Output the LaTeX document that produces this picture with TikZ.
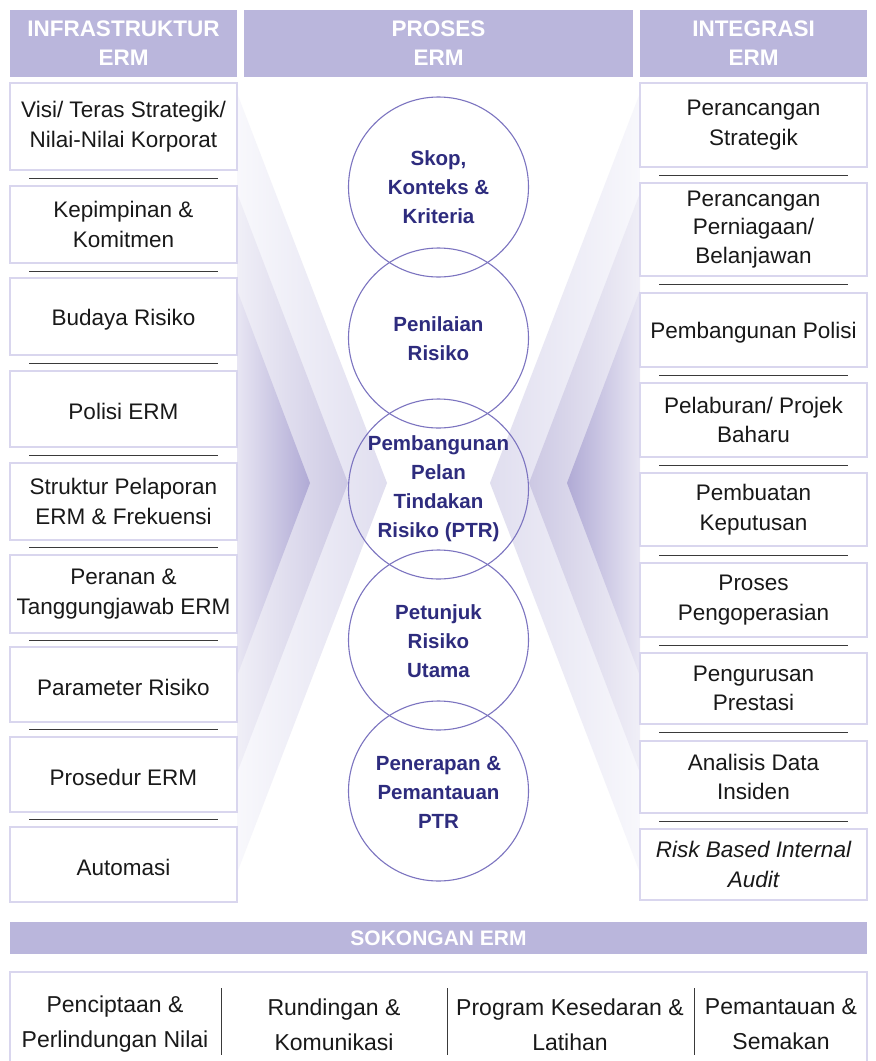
\documentclass[tikz,border=0pt]{standalone}
\usepackage{fontspec}
\setmainfont{Liberation Sans}
\definecolor{hdr}{HTML}{BAB6DC}
\definecolor{bord}{HTML}{D9D6EE}
\definecolor{circ}{HTML}{7C74C0}
\definecolor{navy}{HTML}{2E2C7E}
\definecolor{sepc}{HTML}{3A3A3A}
\definecolor{chA}{HTML}{B0AAD5}
\definecolor{chB}{HTML}{CCC8E3}
\definecolor{chC}{HTML}{E0DEEF}
\definecolor{chAl}{HTML}{E8E6F3}
\definecolor{chBl}{HTML}{F0EFF7}
\definecolor{chCl}{HTML}{F8F8FC}
\begin{document}
\begin{tikzpicture}[x=1pt,y=-1pt,
  hdrbox/.style={fill=hdr, draw=none, text=white, font=\fontsize{22.5}{29}\selectfont\bfseries, align=center, inner sep=0pt, minimum height=67pt},
  ibox/.style={draw=bord, line width=1.2pt, fill=white, align=center, font=\fontsize{22.5}{29.5}\selectfont, minimum width=227pt, inner sep=0pt, text=black!90, execute at begin node={\rule{0pt}{22pt}}},
  sepline/.style={draw=sepc, line width=1pt},
  ring/.style={circle, draw=circ, line width=1.1pt, minimum size=180pt, inner sep=0pt},
  ctext/.style={font=\fontsize{20.5}{29}\selectfont\bfseries, text=navy, align=center, inner sep=0pt},
  btext/.style={font=\fontsize{23}{35}\selectfont, align=center, inner sep=0pt, text=black!90}
]
\useasboundingbox[fill=white] (0,0) rectangle (876,1061);

% chevrons (left)
\shade[left color=chCl, right color=chC] (237,93) -- (387,483) -- (237,873) -- cycle;
\shade[left color=chBl, right color=chB] (237,193) -- (348,483) -- (237,773) -- cycle;
\shade[left color=chAl, right color=chA] (237,290) -- (310,483) -- (237,676) -- cycle;
% chevrons (right)
\shade[left color=chC, right color=chCl] (640,93) -- (490,483) -- (640,873) -- cycle;
\shade[left color=chB, right color=chBl] (640,193) -- (529,483) -- (640,773) -- cycle;
\shade[left color=chA, right color=chAl] (640,290) -- (567,483) -- (640,676) -- cycle;

% headers
\node[hdrbox, minimum width=227pt] (h1) at (123.5,43.5) {INFRASTRUKTUR\\ERM};
\node[hdrbox, minimum width=389pt] (h2) at (438.5,43.5) {PROSES\\ERM};
\node[hdrbox, minimum width=227pt] (h3) at (753.5,43.5) {INTEGRASI\\ERM};

% left column
\node[ibox, minimum height=87pt] (l1) at (123.5,126.5) {Visi/ Teras Strategik/\\Nilai-Nilai Korporat};
\node[ibox, minimum height=77pt] (l2) at (123.5,224.5) {Kepimpinan \&\\Komitmen};
\node[ibox, minimum height=77pt] (l3) at (123.5,316.5) {Budaya Risiko};
\node[ibox, minimum height=76pt] (l4) at (123.5,409) {Polisi ERM};
\node[ibox, minimum height=77pt] (l5) at (123.5,501.5) {Struktur Pelaporan\\ERM \& Frekuensi};
\node[ibox, minimum height=78pt] (l6) at (123.5,594) {Peranan \&\\Tanggungjawab ERM};
\node[ibox, minimum height=75pt] (l7) at (123.5,684.5) {Parameter Risiko};
\node[ibox, minimum height=75pt] (l8) at (123.5,774.5) {Prosedur ERM};
\node[ibox, minimum height=75pt] (l9) at (123.5,864.5) {Automasi};
\foreach \y in {178,271,363,455,547,640,729,819}
  \draw[sepline] (29,\y) -- (218,\y);

% right column
\node[ibox, minimum height=84pt] (r1) at (753.5,125) {Perancangan\\Strategik};
\node[ibox, minimum height=93pt, font=\fontsize{22.5}{28.5}\selectfont] (r2) at (753.5,229.5) {Perancangan\\Perniagaan/\\Belanjawan};
\node[ibox, minimum height=74pt] (r3) at (753.5,330) {Pembangunan Polisi};
\node[ibox, minimum height=74pt] (r4) at (753.5,420) {Pelaburan/ Projek\\Baharu};
\node[ibox, minimum height=73pt] (r5) at (753.5,509.5) {Pembuatan\\Keputusan};
\node[ibox, minimum height=74pt] (r6) at (753.5,600) {Proses\\Pengoperasian};
\node[ibox, minimum height=71pt] (r7) at (753.5,688.5) {Pengurusan\\Prestasi};
\node[ibox, minimum height=72pt] (r8) at (753.5,777) {Analisis Data\\Insiden};
\node[ibox, minimum height=71pt, font=\fontsize{22.5}{29.5}\selectfont\itshape] (r9) at (753.5,864.5) {Risk Based Internal\\Audit};
\foreach \y in {175,284,375,465,555,645,732,821}
  \draw[sepline] (659,\y) -- (848,\y);

% process circles
\node[ring] (c1) at (438.5,187) {};
\node[ring] (c2) at (438.5,338) {};
\node[ring] (c3) at (438.5,489) {};
\node[ring] (c4) at (438.5,640) {};
\node[ring] (c5) at (438.5,791) {};
\node[ctext] (t1) at (c1.center) {Skop,\\Konteks \&\\Kriteria};
\node[ctext] (t2) at (438.5,339) {Penilaian\\Risiko};
\node[ctext] (t3) at (c3.center) {Pembangunan\\Pelan\\Tindakan\\Risiko (PTR)};
\node[ctext] (t4) at (438.5,641) {Petunjuk\\Risiko\\Utama};
\node[ctext] (t5) at (438.5,792) {Penerapan \&\\Pemantauan\\PTR};

% support section
\node[fill=hdr, minimum width=857pt, minimum height=32pt, inner sep=0pt, text=white, font=\fontsize{21}{25}\selectfont\bfseries] (s0) at (438.5,938) {SOKONGAN ERM};
\draw[draw=bord, line width=1.2pt] (10,1075) -- (10,972) -- (867,972) -- (867,1075);
\node[btext] (b1) at (115,1024.5) {Penciptaan \&\\Perlindungan Nilai};
\node[btext] (b2) at (334,1024.5) {Rundingan \&\\Komunikasi};
\node[btext] (b3) at (570,1024.5) {Program Kesedaran \&\\Latihan};
\node[btext] (b4) at (781,1024.5) {Pemantauan \&\\Semakan};
\foreach \x in {221,447,694}
  \draw[draw=sepc, line width=1pt] (\x,988) -- (\x,1055);
\end{tikzpicture}
\end{document}
